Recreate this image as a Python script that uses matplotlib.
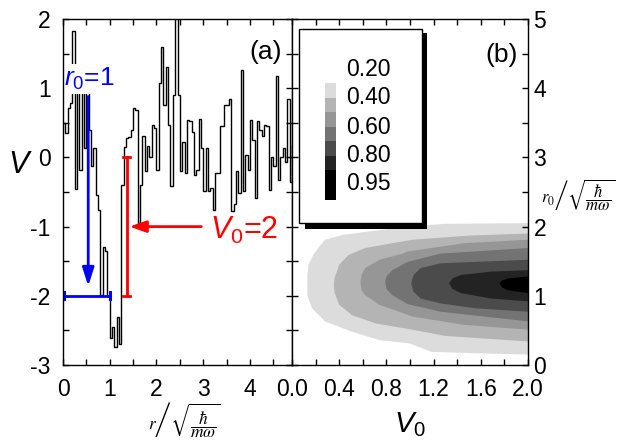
import numpy as np
import matplotlib
matplotlib.use("Agg")
import matplotlib.pyplot as plt
from matplotlib.ticker import MultipleLocator, FormatStrFormatter
from matplotlib.patches import Rectangle

plt.rcParams['font.family'] = ['Liberation Sans', 'DejaVu Sans']
plt.rcParams['mathtext.fontset'] = 'custom'
plt.rcParams['mathtext.rm'] = 'Liberation Sans'
plt.rcParams['mathtext.it'] = 'Liberation Sans:italic'
plt.rcParams['mathtext.bf'] = 'Liberation Sans:bold'
plt.rcParams['axes.unicode_minus'] = False

# ---------------- data: panel (a) random potential (step width 0.05) ----------------
step_width = 0.05
V_steps = [0.49, 0.35, 0.71, 0.78, 1.82, -0.45, 1.15, -0.18, 1.05, 0.13,
           0.95, 0.40, -0.13, 0.13, -0.54, -0.76, -1.99, -1.29, -1.35, -2.0,
           -2.61, -2.45, -2.74, -2.30, -2.70, -0.40, 0.15, 0.28, 0.30, 0.40,
           0.71, 0.69, -0.95, -0.40, 0.31, -0.20, 0.16, 0.00, 0.47, 0.43,
           -0.18, 1.07, 1.60, 0.76, 1.31, 0.47, -0.42, 0.90, 2.10, 0.90,
           -0.20, 0.22, -0.23, 0.54, 0.52, 0.37, -0.25, -0.18, 0.56, 0.13,
           -0.49, 0.13, -0.49, -0.44, -0.76, -0.23, -0.23, 0.45, 0.45, 0.76,
           0.76, 0.84, -0.78, -0.68, -0.20, -0.51, 1.27, -0.49, 0.04, -0.18,
           0.54, 0.25, -0.59, 0.52, 0.40, 0.31, 0.47, 0.45, -0.47, 0.00,
           -0.12, 1.17, -0.33, 0.00, 0.13, -0.06, 0.84, -0.35, 0.18]

# annotations
r0_mark = 1.0          # blue bar length (r0)
V0_mark = 2.0          # red bar length (V0)
blue_bar_level = -2.0
blue_arrow_r = 0.54
blue_arrow_from, blue_arrow_to = 0.88, -1.86
red_bar_r = 1.36
red_bar_top = 0.0
red_arrow_level = -1.0
red_arrow_from, red_arrow_to = 2.96, 1.42

# ---------------- data: panel (b) filled contour regions ----------------
level_colors = ['#dcdcdc', '#b4b4b4', '#969696', '#737373', '#4b4b4b', '#232323', '#000000']
legend_labels = ['0.20', '0.40', '0.60', '0.80', '0.95']

tip_v0 = [0.13, 0.355, 0.58, 0.79, 1.01, 1.33, 1.76]
tip_r0 = [1.15, 1.16, 1.20, 1.20, 1.18, 1.18, 1.18]
top_v0 = [
    [0.13, 0.14, 0.18, 0.23, 0.28, 0.43, 0.70, 0.98, 1.30, 2.0],
    [0.36, 0.40, 0.48, 0.62, 0.85, 1.02, 1.50, 2.0],
    [0.59, 0.62, 0.74, 0.94, 0.98, 1.46, 2.0],
    [0.80, 0.85, 0.98, 1.26, 2.0],
    [1.03, 1.09, 1.26, 1.55, 2.0],
    [1.36, 1.43, 1.69, 2.0],
    [1.78, 1.83, 2.0],
]
top_r0 = [
    [1.30, 1.45, 1.59, 1.71, 1.81, 1.88, 1.94, 2.00, 2.04, 2.05],
    [1.25, 1.45, 1.59, 1.69, 1.76, 1.81, 1.87, 1.90],
    [1.30, 1.40, 1.52, 1.61, 1.64, 1.76, 1.81],
    [1.28, 1.37, 1.49, 1.61, 1.69],
    [1.30, 1.40, 1.47, 1.49, 1.52],
    [1.25, 1.30, 1.35, 1.37],
    [1.22, 1.25, 1.28],
]
bot_v0 = [
    [0.13, 0.14, 0.17, 0.28, 0.51, 0.74, 1.00, 1.18, 1.55, 2.0],
    [0.36, 0.40, 0.51, 0.71, 1.02, 1.30, 2.0],
    [0.59, 0.62, 0.74, 0.94, 1.02, 1.46, 2.0],
    [0.80, 0.85, 0.98, 1.26, 2.0],
    [1.03, 1.09, 1.26, 1.55, 2.0],
    [1.36, 1.43, 1.69, 2.0],
    [1.78, 1.83, 2.0],
]
bot_r0 = [
    [1.01, 0.96, 0.82, 0.63, 0.48, 0.36, 0.31, 0.19, 0.17, 0.15],
    [1.05, 0.87, 0.72, 0.60, 0.51, 0.42, 0.34],
    [1.08, 1.01, 0.87, 0.75, 0.70, 0.58, 0.51],
    [1.10, 1.01, 0.88, 0.77, 0.63],
    [1.06, 0.96, 0.89, 0.82, 0.77],
    [1.10, 1.04, 0.96, 0.92],
    [1.12, 1.08, 1.04],
]

# ---------------- figure ----------------
W, H = 620, 442
fig = plt.figure(figsize=(W / 100, H / 100), dpi=100)

def fx(px):
    return px / W

def fy(py):
    return 1 - py / H

ax1 = fig.add_axes([fx(63), fy(365), fx(292) - fx(63), fy(19) - fy(365)])
ax2 = fig.add_axes([fx(292), fy(365), fx(528) - fx(292), fy(19) - fy(365)])

tick_kw = dict(which='both', direction='in', top=True, right=True,
               length=4, width=1, labelsize=16.5, pad=9)

# ---- panel (a) ----
edges = np.arange(len(V_steps) + 1) * step_width
ax1.stairs(V_steps, edges, color='black', lw=1.0, baseline=None)
ax1.set_xlim(0, 4.9)
ax1.set_ylim(-3, 2)
ax1.xaxis.set_major_locator(MultipleLocator(1))
ax1.xaxis.set_minor_locator(MultipleLocator(0.5))
ax1.yaxis.set_major_locator(MultipleLocator(1))
ax1.yaxis.set_minor_locator(MultipleLocator(0.5))
ax1.tick_params(**tick_kw)
ax1.tick_params(axis='y', pad=9)

# blue r0 marker
ax1.plot([0, r0_mark], [blue_bar_level, blue_bar_level], color='blue', lw=2, solid_capstyle='butt', zorder=5)
for xe in (0.02, r0_mark):
    ax1.plot([xe, xe], [blue_bar_level - 0.05, blue_bar_level + 0.05], color='blue', lw=2.2, zorder=5)
ax1.annotate('', xy=(blue_arrow_r, blue_arrow_to), xytext=(blue_arrow_r, blue_arrow_from),
             arrowprops=dict(arrowstyle='-|>,head_length=1.1,head_width=0.35', color='blue', lw=2,
                             shrinkA=0, shrinkB=0), zorder=5)
ax1.text(0.02, 1.13, r'$r_0$=1', color='blue', fontsize=19, ha='left', va='center',
         bbox=dict(facecolor='white', edgecolor='none', pad=1.5), zorder=6)

# red V0 marker
ax1.plot([red_bar_r, red_bar_r], [red_bar_top - V0_mark, red_bar_top], color='red', lw=2, zorder=5)
for ye in (red_bar_top - V0_mark, red_bar_top):
    ax1.plot([red_bar_r - 0.07, red_bar_r + 0.07], [ye, ye], color='red', lw=2, zorder=5)
ax1.annotate('', xy=(red_arrow_to, red_arrow_level), xytext=(red_arrow_from, red_arrow_level),
             arrowprops=dict(arrowstyle='-|>,head_length=1.0,head_width=0.35', color='red', lw=2,
                             shrinkA=0, shrinkB=0), zorder=5)
ax1.text(3.14, -1.06, r'$V_0$=2', color='red', fontsize=22, ha='left', va='center', zorder=6)
ax1.text(0.955, 0.905, '(a)', transform=ax1.transAxes, fontsize=19, ha='right', va='center')

# ---- panel (b) ----
for i, col in enumerate(level_colors):
    xs = [tip_v0[i]] + top_v0[i] + bot_v0[i][::-1] + [tip_v0[i]]
    ys = [tip_r0[i]] + top_r0[i] + bot_r0[i][::-1] + [tip_r0[i]]
    ax2.fill(xs, ys, color=col, lw=0, zorder=1 + i)
ax2.set_xlim(0, 2)
ax2.set_ylim(0, 5)
ax2.xaxis.set_major_locator(MultipleLocator(0.4))
ax2.xaxis.set_minor_locator(MultipleLocator(0.2))
ax2.xaxis.set_major_formatter(FormatStrFormatter('%.1f'))
ax2.yaxis.set_major_locator(MultipleLocator(1))
ax2.yaxis.set_minor_locator(MultipleLocator(0.5))
ax2.tick_params(**tick_kw)
ax2.tick_params(axis='y', which='both', left=True, right=True, labelleft=False, labelright=True, pad=4)
ax2.text(0.955, 0.895, '(b)', transform=ax2.transAxes, fontsize=19, ha='right', va='center')
for ax in (ax1, ax2):
    for sp in ax.spines.values():
        sp.set_linewidth(1.0)
        sp.set_zorder(20)

# legend box with shadow (figure pixel coordinates)
def frect(x0, y0, x1, y1, **kw):
    r = Rectangle((fx(x0), fy(y1)), fx(x1) - fx(x0), fy(y0) - fy(y1), transform=fig.transFigure, **kw)
    fig.add_artist(r)

frect(305, 33, 427, 229, facecolor='black', edgecolor='none', zorder=10)
frect(299, 29, 422, 223, facecolor='white', edgecolor='black', lw=1.0, zorder=11)
sw_edges = [83, 98, 112, 127, 141, 156, 170, 200]
for i, col in enumerate(level_colors):
    frect(325, sw_edges[i], 336, sw_edges[i + 1], facecolor=col, edgecolor='none', zorder=12)
lab_y = [70, 98, 127, 155, 183]
for lab, yy in zip(legend_labels, lab_y):
    fig.text(fx(346), fy(yy), lab, fontsize=16.5, ha='left', va='center', zorder=13)

# axis labels
fig.text(fx(19), fy(165), 'V', fontsize=22, fontstyle='italic', ha='center', va='center')
fig.text(fx(410), fy(410), r'$V_0$', fontsize=21, ha='center', va='top')
fig.text(fx(148), fy(400), r'$r\left/\sqrt{\dfrac{\hbar}{m\omega}}\right.$', math_fontfamily='stix',
         fontsize=12.5, ha='left', va='top')
fig.text(fx(541), fy(195), r'$r_0\left/\sqrt{\dfrac{\hbar}{m\omega}}\right.$', math_fontfamily='stix',
         fontsize=12, ha='left', va='center')

fig.savefig('out.png', dpi=100)
